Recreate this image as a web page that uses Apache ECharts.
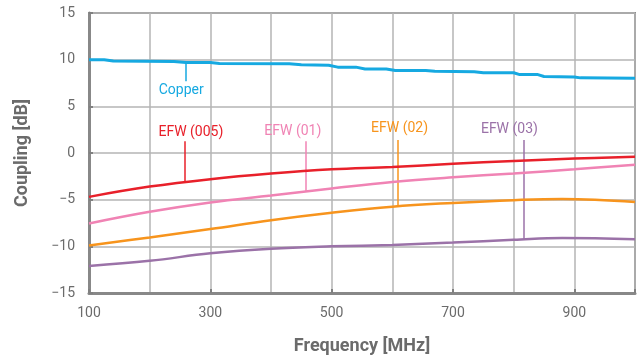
<!DOCTYPE html>
<html><head><meta charset="utf-8">
<script src="https://cdn.jsdelivr.net/npm/echarts@6/dist/echarts.min.js"></script>
<style>html,body{margin:0;padding:0;background:#fff}#c{width:642px;height:360px}</style>
</head><body><div id="c"></div>
<script>
// ---- data ----
const seriesNames = ['Copper', 'EFW (005)', 'EFW (01)', 'EFW (02)', 'EFW (03)'];
const copperFreq = [100,125,140,240,260,300,315,430,450,495,510,540,555,590,605,655,670,735,750,800,810,840,850,900,910,1000];
const copperVals = [10.0,10.0,9.85,9.8,9.7,9.7,9.6,9.55,9.45,9.4,9.2,9.2,9.0,9.0,8.85,8.85,8.75,8.7,8.6,8.6,8.4,8.4,8.2,8.15,8.05,8.0];
const efwFreq = [100,200,300,400,500,600,700,800,900,1000];
const efw005 = [-4.7,-3.6,-2.8,-2.2,-1.75,-1.5,-1.15,-0.85,-0.6,-0.4];
const efw01  = [-7.55,-6.3,-5.3,-4.55,-3.8,-3.1,-2.6,-2.2,-1.75,-1.25];
const efw02Freq = [100,200,300,400,500,600,700,800,880,1000];
const efw02  = [-9.9,-9.05,-8.15,-7.2,-6.4,-5.75,-5.35,-5.05,-4.92,-5.25];
const efw03Freq = [100,200,300,400,500,600,700,800,880,1000];
const efw03  = [-12.1,-11.55,-10.75,-10.25,-10.0,-9.85,-9.6,-9.3,-9.1,-9.25];
const xTickLabels = [100,300,500,700,900];
const yTickLabels = [-15,-10,-5,0,5,10,15];

// ---- annotation placement (label anchor + connector) ----
const annot = [
  {text:[252,6.7], line:[260,7.7,9.7]},
  {text:[268,2.21], line:[258,1.26,-3.0]},
  {text:[436,2.3],  line:[458,1.26,-4.1]},
  {text:[612,2.63], line:[609,1.4,-5.7]},
  {text:[793,2.56], line:[816,1.4,-9.3]}
];
const colors = ['#16a9e1','#e8202a','#f083b4','#f7941d','#9b72a8'];
const FONT = 'Roboto';

const zip = (xs, ys) => xs.map((x,i)=>[x, ys[i]]);
const dataSets = [zip(copperFreq,copperVals), zip(efwFreq,efw005), zip(efwFreq,efw01), zip(efw02Freq,efw02), zip(efw03Freq,efw03)];

const series = seriesNames.map((name,i)=>({
  name, type:'line', xAxisIndex:0, data:dataSets[i], smooth: i===0 ? false : 0.4,
  showSymbol:false, symbol:'none',
  lineStyle:{color:colors[i], width: i===0?3:2.5},
  z: 5,
  markLine:{silent:true, symbol:'none', animation:false,
    lineStyle:{color:colors[i], width:1.5, type:'solid'}, label:{show:false},
    data:[[{coord:[annot[i].line[0], annot[i].line[1]]},{coord:[annot[i].line[0], annot[i].line[2]]}]]},
  markPoint:{silent:true, animation:false, symbol:'circle', symbolSize:0,
    data:[{coord:annot[i].text, value:name}],
    label:{show:true, position:'inside', formatter:name, color:colors[i], fontFamily:FONT, fontSize:14}}
}));

const chart = echarts.init(document.getElementById('c'), null, {renderer:'canvas'});
chart.setOption({
  animation:false,
  grid:{left:89, right:7, top:13, bottom:63, show:true, borderColor:'#8c8c8c', borderWidth:2, backgroundColor:'transparent'},
  xAxis:[{
    type:'value', min:100, max:1000, interval:100,
    name:'Frequency [MHz]', nameLocation:'middle', nameGap:44,
    nameTextStyle:{fontFamily:FONT, fontWeight:'bold', fontSize:18, color:'#6b6b6b'},
    axisLine:{show:true, onZero:false, lineStyle:{color:'#888', width:3}},
    axisTick:{show:false},
    splitLine:{show:true, lineStyle:{color:'#b5b5b5', width:1.5}},
    axisLabel:{margin:13, fontFamily:FONT, fontSize:14, color:'#6b6b6b',
      formatter:v=> xTickLabels.includes(v) ? String(v) : ''}
  },{
    type:'value', min:100, max:1000, interval:200, position:'bottom',
    axisLine:{show:false, onZero:false}, splitLine:{show:false}, axisLabel:{show:false},
    axisTick:{show:true, inside:true, length:4, lineStyle:{color:'#808080', width:2}}
  }],
  yAxis:{
    type:'value', min:-15, max:15, interval:5,
    name:'Coupling [dB]', nameLocation:'middle', nameGap:58, nameRotate:90,
    nameTextStyle:{fontFamily:FONT, fontWeight:'bold', fontSize:18, color:'#6b6b6b'},
    axisLine:{show:true, onZero:false, lineStyle:{color:'#888', width:3}},
    axisTick:{show:true, inside:true, length:4, lineStyle:{color:'#808080', width:2}},
    splitLine:{show:true, lineStyle:{color:'#b5b5b5', width:1.5}},
    axisLabel:{margin:14, fontFamily:FONT, fontSize:14, color:'#6b6b6b',
      formatter:v=> yTickLabels.includes(v) ? String(v).replace('-','\u2212') : ''}
  },
  series
});
</script></body></html>
